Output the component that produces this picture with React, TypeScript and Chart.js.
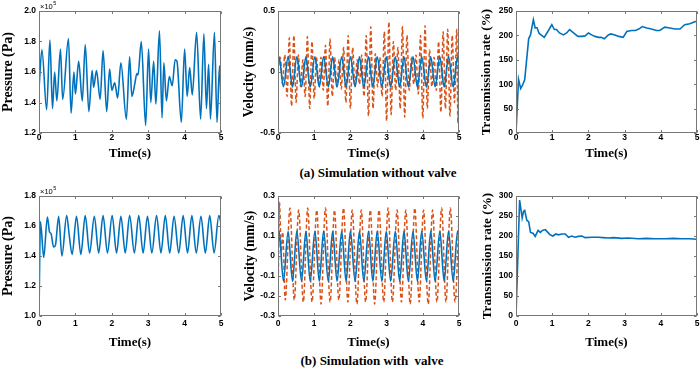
import React, { useEffect, useRef } from "react";
import { Chart, registerables } from "chart.js";

Chart.register(...registerables);

const BLUE = "#0072BD";
const ORANGE = "#D95319";

// ---------------- data ----------------
const timeMin = 0;
const timeMax = 5;

// (a) pressure without valve, units of 1e5 Pa
const pressNoValveT = [0, 0.08, 0.21, 0.3, 0.37, 0.43, 0.49, 0.59, 0.65, 0.81, 0.88, 0.96, 1.0, 1.09, 1.19, 1.27, 1.37, 1.46, 1.5, 1.58, 1.68, 1.76, 1.86, 1.94, 2.0, 2.08, 2.16, 2.25, 2.4, 2.49, 2.55, 2.63, 2.69, 2.72, 2.81, 2.93, 3.01, 3.07, 3.15, 3.21, 3.31, 3.38, 3.43, 3.5, 3.58, 3.66, 3.74, 3.79, 3.91, 4.0, 4.07, 4.14, 4.21, 4.33, 4.44, 4.53, 4.6, 4.66, 4.71, 4.82, 4.89, 4.96, 5.0];
const pressNoValve = [1.49, 1.746, 1.353, 1.81, 1.36, 1.6, 1.41, 1.75, 1.42, 1.82, 1.33, 1.6, 1.456, 1.67, 1.41, 1.78, 1.34, 1.61, 1.5, 1.61, 1.42, 1.74, 1.34, 1.62, 1.48, 1.53, 1.43, 1.66, 1.29, 1.7, 1.44, 1.52, 1.59, 1.58, 1.8, 1.25, 1.75, 1.4, 1.67, 1.39, 1.87, 1.3, 1.66, 1.41, 1.57, 1.51, 1.68, 1.67, 1.27, 1.75, 1.44, 1.63, 1.45, 1.86, 1.29, 1.85, 1.36, 1.65, 1.29, 1.86, 1.27, 1.64, 1.41];

// blue velocity extrema times (both cases)
const velBlueT = [0, 0.03, 0.15, 0.28, 0.4, 0.52, 0.65, 0.77, 0.89, 1.02, 1.14, 1.26, 1.39, 1.51, 1.63, 1.76, 1.88, 2.0, 2.13, 2.25, 2.37, 2.5, 2.62, 2.74, 2.87, 2.99, 3.11, 3.24, 3.36, 3.48, 3.6, 3.73, 3.85, 3.97, 4.1, 4.22, 4.34, 4.47, 4.59, 4.71, 4.84, 4.96, 5.0];
const velNoValveBlue = [0.06, 0.124, -0.121, 0.125, -0.122, 0.125, -0.121, 0.124, -0.122, 0.125, -0.122, 0.125, -0.121, 0.124, -0.122, 0.125, -0.122, 0.125, -0.121, 0.125, -0.122, 0.124, -0.122, 0.125, -0.121, 0.125, -0.122, 0.124, -0.122, 0.125, -0.121, 0.125, -0.122, 0.125, -0.122, 0.124, -0.121, 0.125, -0.122, 0.125, -0.122, 0.125, 0.09];

const velNoValveOrangeT = [0, 0.0625, 0.125, 0.1875, 0.25, 0.3125, 0.375, 0.4375, 0.5, 0.5625, 0.625, 0.6875, 0.75, 0.8125, 0.875, 0.9375, 1.0, 1.0625, 1.125, 1.1875, 1.25, 1.3125, 1.375, 1.4375, 1.5, 1.5625, 1.625, 1.6875, 1.75, 1.8125, 1.875, 1.9375, 2.0, 2.0625, 2.125, 2.1875, 2.25, 2.3125, 2.375, 2.4375, 2.5, 2.5625, 2.625, 2.6875, 2.75, 2.8125, 2.875, 2.9375, 3.0, 3.0625, 3.125, 3.1875, 3.25, 3.3125, 3.375, 3.4375, 3.5, 3.5625, 3.625, 3.6875, 3.75, 3.8125, 3.875, 3.9375, 4.0, 4.0625, 4.125, 4.1875, 4.25, 4.3125, 4.375, 4.4375, 4.5, 4.5625, 4.625, 4.6875, 4.75, 4.8125, 4.875, 4.9375, 4.97, 5.0];
const velNoValveOrange = [0.0, 0.12, -0.1, 0.14, -0.2, 0.28, -0.28, 0.3, -0.25, 0.14, -0.12, 0.1, -0.2, 0.29, -0.3, 0.25, -0.22, 0.12, -0.1, 0.12, -0.15, 0.22, -0.28, 0.27, -0.2, 0.12, -0.12, 0.1, -0.14, 0.2, -0.25, 0.3, -0.3, 0.2, -0.12, 0.1, -0.1, 0.14, -0.2, 0.3, -0.36, 0.37, -0.3, 0.15, -0.12, 0.12, -0.2, 0.33, -0.4, 0.41, -0.35, 0.25, -0.15, 0.2, -0.3, 0.37, -0.37, 0.3, -0.15, 0.12, -0.1, 0.14, -0.18, 0.3, -0.38, 0.38, -0.3, 0.18, -0.12, 0.12, -0.15, 0.25, -0.33, 0.33, -0.3, 0.35, -0.36, 0.3, -0.25, 0.35, -0.42, 0.42];

const transNoValveT = [0, 0.07, 0.13, 0.18, 0.24, 0.35, 0.4, 0.48, 0.53, 0.58, 0.64, 0.78, 0.88, 0.99, 1.06, 1.12, 1.2, 1.31, 1.4, 1.48, 1.59, 1.71, 1.82, 1.91, 2.0, 2.09, 2.18, 2.28, 2.35, 2.44, 2.55, 2.62, 2.73, 2.84, 2.96, 3.06, 3.19, 3.3, 3.39, 3.49, 3.61, 3.74, 3.88, 3.97, 4.11, 4.25, 4.39, 4.53, 4.66, 4.8, 4.94, 5.0];
const transNoValve = [0, 110, 91, 98, 109, 193, 201, 232, 215, 216, 204, 196, 208, 222, 212, 212, 205, 201, 205, 212, 205, 198, 198, 199, 205, 201, 198, 196, 196, 193, 201, 203, 201, 198, 196, 208, 210, 210, 213, 218, 215, 213, 210, 210, 217, 215, 213, 213, 222, 224, 228, 229];

// (b) pressure with valve, units of 1e5 Pa
const pressValveT = [0, 0.04, 0.13, 0.23, 0.29, 0.33, 0.4, 0.45, 0.54, 0.63, 0.76, 0.83, 0.91, 1.03, 1.15, 1.27, 1.39, 1.52, 1.64, 1.76, 1.88, 2.01, 2.13, 2.25, 2.37, 2.49, 2.62, 2.74, 2.86, 2.98, 3.1, 3.23, 3.35, 3.47, 3.59, 3.71, 3.84, 3.96, 4.08, 4.2, 4.32, 4.45, 4.57, 4.69, 4.81, 4.94, 5.0];
const pressValve = [1.02, 1.63, 1.39, 1.66, 1.56, 1.55, 1.46, 1.47, 1.665, 1.4, 1.67, 1.54, 1.41, 1.665, 1.41, 1.67, 1.42, 1.665, 1.42, 1.67, 1.42, 1.67, 1.42, 1.665, 1.42, 1.67, 1.42, 1.67, 1.42, 1.665, 1.42, 1.67, 1.42, 1.67, 1.42, 1.665, 1.42, 1.67, 1.42, 1.67, 1.42, 1.665, 1.42, 1.67, 1.42, 1.67, 1.62];

const velValveBlue = [0.0, 0.124, -0.126, 0.124, -0.127, 0.125, -0.126, 0.124, -0.127, 0.124, -0.126, 0.125, -0.127, 0.124, -0.126, 0.124, -0.127, 0.125, -0.126, 0.124, -0.127, 0.124, -0.126, 0.125, -0.127, 0.124, -0.126, 0.124, -0.127, 0.125, -0.126, 0.124, -0.127, 0.124, -0.126, 0.125, -0.127, 0.124, -0.126, 0.124, -0.127, 0.125, 0.1];

const velValveOrangeT = [0, 0.04, 0.09, 0.13, 0.2, 0.33, 0.45, 0.57, 0.7, 0.82, 0.94, 1.07, 1.19, 1.31, 1.44, 1.56, 1.68, 1.81, 1.93, 2.05, 2.18, 2.3, 2.42, 2.55, 2.67, 2.79, 2.92, 3.04, 3.16, 3.29, 3.41, 3.53, 3.65, 3.78, 3.9, 4.02, 4.15, 4.27, 4.39, 4.52, 4.64, 4.76, 4.89, 5.0];
const velValveOrange = [-0.25, 0.27, 0.02, 0.12, -0.22, 0.24, -0.22, 0.23, -0.23, 0.24, -0.23, 0.23, -0.24, 0.24, -0.23, 0.23, -0.22, 0.24, -0.23, 0.23, -0.24, 0.23, -0.23, 0.23, -0.24, 0.23, -0.23, 0.24, -0.23, 0.23, -0.23, 0.23, -0.24, 0.24, -0.23, 0.23, -0.24, 0.23, -0.23, 0.24, -0.23, 0.24, -0.23, 0.2];

const transValveT = [0, 0.1, 0.17, 0.21, 0.24, 0.3, 0.35, 0.4, 0.47, 0.53, 0.61, 0.67, 0.73, 0.81, 0.88, 0.94, 1.02, 1.1, 1.17, 1.27, 1.36, 1.45, 1.54, 1.63, 1.72, 1.82, 1.91, 2.09, 2.28, 2.4, 2.55, 2.7, 2.92, 3.1, 3.38, 3.6, 3.85, 4.11, 4.35, 4.57, 4.8, 5.0];
const transValve = [0, 290, 245, 262, 264, 239, 236, 209, 207, 199, 214, 209, 214, 216, 209, 203, 200, 205, 203, 205, 205, 197, 200, 197, 199, 200, 196, 197, 197, 196, 195, 196, 194, 195, 193, 194, 193, 193, 194, 193, 193, 192];

// ---------------- helpers ----------------
const zip = (xs: number[], ys: number[]) => xs.map((x, i) => ({ x, y: ys[i] }));

const SERIF = "'Liberation Serif', 'Times New Roman', serif";
const tickFont = { family: "'Liberation Sans', Arial, sans-serif", weight: "bold" as const, size: 8.5 };
const titleFont = { family: SERIF, weight: "bold" as const, size: 13 };

const blueLine = (data: any[]) => ({
  data,
  borderColor: BLUE,
  borderWidth: 1.6,
  pointRadius: 0,
  fill: false,
  cubicInterpolationMode: "monotone" as const,
});
const orangeLine = (data: any[]) => ({
  data,
  borderColor: ORANGE,
  borderWidth: 1.5,
  borderDash: [4, 2.5],
  pointRadius: 0,
  fill: false,
  cubicInterpolationMode: "monotone" as const,
});
const jaggedLine = (data: any[]) => ({
  data,
  borderColor: BLUE,
  borderWidth: 1.6,
  pointRadius: 0,
  fill: false,
  tension: 0,
});

const boxPlugin = {
  id: "matlabBox",
  afterDatasetsDraw(chart: any, _args: any, opts: any) {
    const { ctx, chartArea: a, scales } = chart;
    ctx.save();
    ctx.strokeStyle = "#777777";
    ctx.lineWidth = 1;
    const L = Math.round(a.left) + 0.5;
    const R = Math.round(a.right) - 0.5;
    const T = Math.round(a.top) + 0.5;
    const B = Math.round(a.bottom) - 0.5;
    ctx.strokeRect(L, T, R - L, B - T);
    ctx.beginPath();
    const tl = 2.5;
    for (const t of scales.x.ticks) {
      const x = Math.round(scales.x.getPixelForValue(t.value)) + 0.5;
      ctx.moveTo(x, B);
      ctx.lineTo(x, B - tl);
      ctx.moveTo(x, T);
      ctx.lineTo(x, T + tl);
    }
    for (const t of scales.y.ticks) {
      const y = Math.round(scales.y.getPixelForValue(t.value)) + 0.5;
      ctx.moveTo(L, y);
      ctx.lineTo(L + tl, y);
      ctx.moveTo(R, y);
      ctx.lineTo(R - tl, y);
    }
    ctx.stroke();
    if (opts && opts.exponent) {
      ctx.fillStyle = "#000";
      ctx.textBaseline = "alphabetic";
      ctx.textAlign = "left";
      ctx.font = "7.5px 'Liberation Sans', Arial, sans-serif";
      ctx.fillText("\u00d710", a.left + 1, a.top - 2.5);
      const w = ctx.measureText("\u00d710").width;
      ctx.font = "5.5px 'Liberation Sans', Arial, sans-serif";
      ctx.fillText("5", a.left + 1.5 + w, a.top - 6);
    }
    ctx.restore();
  },
};

type Spec = {
  canvas: { left: number; top: number; w: number; h: number };
  plot: { l: number; t: number; r: number; b: number };
  yTitle: string;
  yTitleSize: number;
  yMin: number;
  yMax: number;
  yStep: number;
  xPad: number;
  exponent?: boolean;
  datasets: any[];
};

function Panel({ spec }: { spec: Spec }) {
  const ref = useRef<HTMLCanvasElement>(null);
  useEffect(() => {
    const c = spec.canvas;
    const p = spec.plot;
    const chart = new Chart(ref.current as HTMLCanvasElement, {
      type: "line",
      data: { datasets: spec.datasets },
      options: {
        responsive: false,
        animation: false,
        devicePixelRatio: 1,
        layout: { padding: { left: 0, top: p.t - c.top, right: c.left + c.w - p.r, bottom: 0 } },
        plugins: {
          legend: { display: false },
          tooltip: { enabled: false },
          matlabBox: { exponent: !!spec.exponent },
        } as any,
        scales: {
          x: {
            type: "linear",
            min: timeMin,
            max: timeMax,
            ticks: { stepSize: 1, padding: spec.xPad, color: "#000", font: tickFont, maxRotation: 0, autoSkip: false },
            grid: { display: false, drawTicks: false },
            border: { display: false },
            title: { display: true, text: "Time(s)", color: "#000", font: titleFont, padding: 0 },
            afterFit: (s: any) => {
              s.height = c.top + c.h - p.b;
              s.paddingLeft = 0;
              s.paddingRight = 0;
            },
          },
          y: {
            type: "linear",
            min: spec.yMin,
            max: spec.yMax,
            ticks: { stepSize: spec.yStep, padding: 3, color: "#000", font: tickFont, autoSkip: false },
            grid: { display: false, drawTicks: false },
            border: { display: false },
            title: {
              display: true,
              text: spec.yTitle,
              color: "#000",
              font: { family: SERIF, weight: "bold", size: spec.yTitleSize, lineHeight: 1.15 },
              padding: 0,
            },
            afterFit: (s: any) => {
              s.width = p.l - c.left;
              s.paddingTop = 0;
              s.paddingBottom = 0;
            },
          },
        } as any,
      },
      plugins: [boxPlugin as any],
    });
    return () => chart.destroy();
  }, []);
  const c = spec.canvas;
  return (
    <canvas
      ref={ref}
      width={c.w}
      height={c.h}
      style={{ position: "absolute", left: c.left, top: c.top, width: c.w, height: c.h }}
    />
  );
}

const specs: Spec[] = [
  {
    canvas: { left: 0, top: 0, w: 224, h: 161 },
    plot: { l: 39, t: 11, r: 221, b: 133 },
    yTitle: "Pressure (Pa)", yTitleSize: 14,
    yMin: 1.2, yMax: 2.0, yStep: 0.2, xPad: 0, exponent: true,
    datasets: [blueLine(zip(pressNoValveT, pressNoValve))],
  },
  {
    canvas: { left: 242, top: 0, w: 220, h: 161 },
    plot: { l: 278, t: 11, r: 459, b: 133 },
    yTitle: "Velocity (mm/s)", yTitleSize: 13.6,
    yMin: -0.5, yMax: 0.5, yStep: 0.5, xPad: 0,
    datasets: [blueLine(zip(velBlueT, velNoValveBlue)), orangeLine(zip(velNoValveOrangeT, velNoValveOrange))],
  },
  {
    canvas: { left: 479, top: 0, w: 221, h: 161 },
    plot: { l: 516, t: 11, r: 697, b: 133 },
    yTitle: "Transmission rate (%)", yTitleSize: 13.2,
    yMin: 0, yMax: 250, yStep: 50, xPad: 0,
    datasets: [jaggedLine(zip(transNoValveT, transNoValve))],
  },
  {
    canvas: { left: 0, top: 183, w: 224, h: 167 },
    plot: { l: 39, t: 196, r: 221, b: 316 },
    yTitle: "Pressure (Pa)", yTitleSize: 14,
    yMin: 1.0, yMax: 1.8, yStep: 0.2, xPad: 3, exponent: true,
    datasets: [blueLine(zip(pressValveT, pressValve))],
  },
  {
    canvas: { left: 243, top: 183, w: 219, h: 167 },
    plot: { l: 278, t: 196, r: 459, b: 316 },
    yTitle: "Velocity (mm/s)", yTitleSize: 13.6,
    yMin: -0.3, yMax: 0.3, yStep: 0.1, xPad: 3,
    datasets: [blueLine(zip(velBlueT, velValveBlue)), orangeLine(zip(velValveOrangeT, velValveOrange))],
  },
  {
    canvas: { left: 480, top: 183, w: 220, h: 167 },
    plot: { l: 516, t: 196, r: 697, b: 316 },
    yTitle: "Transmission rate (%)", yTitleSize: 13.2,
    yMin: 0, yMax: 300, yStep: 50, xPad: 3,
    datasets: [jaggedLine(zip(transValveT, transValve))],
  },
];

const captionStyle: React.CSSProperties = {
  position: "absolute",
  transform: "translate(-50%, -50%)",
  font: "bold 13px 'Liberation Serif', 'Times New Roman', serif",
  color: "#000",
  whiteSpace: "pre",
  lineHeight: "15px",
};

export default function App() {
  return (
    <div style={{ position: "fixed", left: 0, top: 0, width: 700, height: 373, background: "#fff", overflow: "hidden" }}>
      {specs.map((s, i) => (
        <Panel key={i} spec={s} />
      ))}
      <div style={{ ...captionStyle, left: 378, top: 172 }}>(a) Simulation without valve</div>
      <div style={{ ...captionStyle, left: 372, top: 360 }}>(b) Simulation with  valve</div>
    </div>
  );
}
